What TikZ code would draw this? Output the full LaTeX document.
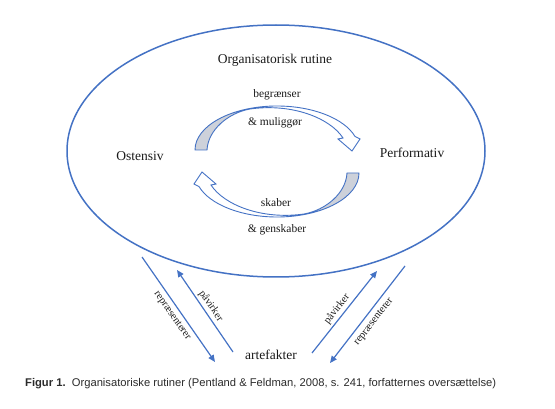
\documentclass[tikz,border=0pt]{standalone}
\usepackage{fontspec}
\setmainfont{Liberation Serif}
\newfontfamily\capfont{Liberation Sans}
\usetikzlibrary{arrows.meta,shapes.geometric}
\definecolor{lineblue}{HTML}{4472C4}
\definecolor{bandgray}{HTML}{CDD1DA}
\definecolor{captext}{HTML}{2B2B2B}
\definecolor{txt}{HTML}{1A1A1A}
\tikzset{
  biglbl/.style={font=\fontsize{13.5}{15}\selectfont, text=txt, inner sep=0pt},
  midlbl/.style={font=\fontsize{11.5}{13}\selectfont, text=txt, inner sep=0pt},
  smalllbl/.style={font=\fontsize{10.5}{12}\selectfont, text=txt, inner sep=0pt},
  conn/.style={draw=lineblue, line width=1.2pt, -{Triangle[length=7pt,width=6pt]}},
  curvearrow/.style={draw=lineblue, line width=0.9pt, line join=miter},
}
\begin{document}
\begin{tikzpicture}[x=1pt,y=-1pt]
\useasboundingbox (0,0) rectangle (555,409);
% routine ellipse
\node[ellipse, draw=lineblue, line width=1.5pt, minimum width=418pt, minimum height=252pt, inner sep=0pt] (rutine) at (276,151) {};
\node[biglbl] (title) at (275,60) {Organisatorisk rutine};
\node[biglbl] (ost) at (140,156) {Ostensiv};
\node[biglbl] (perf) at (412,153) {Performativ};
\node[midlbl] (beg) at (277,95) {begrænser};
\node[midlbl] (mul) at (275,123) {\& muliggør};
\node[midlbl] (skab) at (276,203) {skaber};
\node[midlbl] (gensk) at (277,230) {\& genskaber};
% curved arrows
\foreach \rot in {0,180}{
\begin{scope}[rotate around={\rot:(277,161.5)}]
  \fill[bandgray] (195,150) arc[start angle=180,end angle=250,x radius=82,y radius=44]
     .. controls (228,113) and (208,130) .. (207,150) -- cycle;
  \draw[curvearrow] (207,150) -- (195,150)
     arc[start angle=180,end angle=342,x radius=82,y radius=44]
     -- (360,139) -- (352,151) -- (338,139) -- (343,138)
     .. controls (330,118) and (292,103) .. (250,109)
     .. controls (228,113) and (208,130) .. (207,150) -- cycle;
\end{scope}
}
% artefakter
\node[biglbl] (art) at (271,355) {artefakter};
% connector end points
\coordinate (l1s) at (142,257);
\coordinate (l1e) at (215,362);
\coordinate (l2s) at (233,352);
\coordinate (l2e) at (177,270);
\coordinate (r1s) at (312,353);
\coordinate (r1e) at (377,271);
\coordinate (r2s) at (405,266);
\coordinate (r2e) at (330,363);
\draw[conn] (l1s) -- (l1e);
\draw[conn] (l2s) -- (l2e);
\draw[conn] (r1s) -- (r1e);
\draw[conn] (r2s) -- (r2e);
\node[smalllbl, rotate=-55] (lrep) at (172,316) {repræsenterer};
\node[smalllbl, rotate=-56] (lpav) at (211,306) {påvirker};
\node[smalllbl, rotate=52] (rpav) at (337,309) {påvirker};
\node[smalllbl, rotate=52] (rrep) at (374,322) {repræsenterer};
% caption
\node[anchor=west, inner sep=0pt, text=captext, font=\capfont\fontsize{11.2}{13}\selectfont] (cap) at (25,384)
  {\textbf{Figur 1.}\ \ Organisatoriske rutiner (Pentland \& Feldman, 2008, s. 241, forfatternes oversættelse)};
\end{tikzpicture}
\end{document}
